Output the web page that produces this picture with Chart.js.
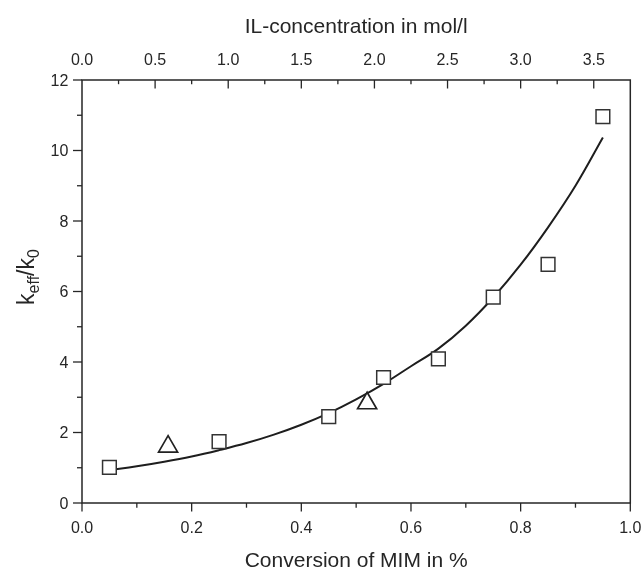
<!DOCTYPE html>
<html>
<head>
<meta charset="utf-8">
<script src="https://cdn.jsdelivr.net/npm/chart.js@4.4.1/dist/chart.umd.min.js"></script>
<style>
    html, body { margin: 0; padding: 0; background: #fff; }
    #wrap { width: 643px; height: 569px; }
</style>
</head>
<body>
<div id="wrap"><canvas id="chart"></canvas></div>
<script>
// measured k_eff/k_0 against conversion (squares and triangles)
const convSquares = [0.05, 0.25, 0.45, 0.55, 0.65, 0.75, 0.85, 0.95];
const ratioSquares = [1.01, 1.74, 2.45, 3.56, 4.09, 5.84, 6.77, 10.96];
const convTriangles = [0.157, 0.52];
const ratioTriangles = [1.6, 2.83];

// fitted curve
const fitConv = [0.05, 0.10, 0.15, 0.20, 0.25, 0.30, 0.35, 0.40, 0.45, 0.50,
                 0.55, 0.60, 0.65, 0.70, 0.75, 0.80, 0.85, 0.90, 0.95];
const fitRatio = [0.93, 1.04, 1.17, 1.32, 1.50, 1.70, 1.94, 2.22, 2.55, 2.94,
                  3.38, 3.88, 4.38, 5.03, 5.83, 6.76, 7.82, 9.0, 10.37];

// axis labels
const bottomTickLabels = ['0.0', '0.2', '0.4', '0.6', '0.8', '1.0'];
const topTickLabels = ['0.0', '0.5', '1.0', '1.5', '2.0', '2.5', '3.0', '3.5'];
const leftTickLabels = ['0', '2', '4', '6', '8', '10', '12'];
const topTitle = 'IL-concentration in mol/l';
const bottomTitle = 'Conversion of MIM in %';

const ink = '#262626';
const family = '"Liberation Sans", Arial, Helvetica, sans-serif';

function toPoints(xs, ys) {
    return xs.map((x, i) => ({x: x, y: ys[i]}));
}

function findLabel(labels, value) {
    return labels.find(l => Math.abs(parseFloat(l) - value) < 1e-6);
}

// frame, tick marks, tick labels and axis titles
const frameAndAxes = {
    id: 'frameAndAxes',
    afterDraw(chart) {
        const {ctx, chartArea: a, scales} = chart;
        ctx.save();
        ctx.strokeStyle = ink;
        ctx.fillStyle = ink;
        ctx.lineWidth = 1.5;
        ctx.strokeRect(a.left, a.top, a.right - a.left, a.bottom - a.top);

        ctx.lineWidth = 1.3;
        ctx.font = '16px ' + family;

        // bottom axis, ticks outward
        ctx.textAlign = 'center';
        ctx.textBaseline = 'alphabetic';
        for (const t of scales.x.ticks) {
            const px = scales.x.getPixelForValue(t.value);
            const lab = findLabel(bottomTickLabels, t.value);
            ctx.beginPath();
            ctx.moveTo(px, a.bottom);
            ctx.lineTo(px, a.bottom + (lab ? 8.5 : 4.7));
            ctx.stroke();
            if (lab) ctx.fillText(lab, px, a.bottom + 29.5);
        }

        // top axis, ticks inward
        for (const t of scales.x2.ticks) {
            const px = scales.x2.getPixelForValue(t.value);
            const lab = findLabel(topTickLabels, t.value);
            if (lab) ctx.fillText(lab, px, a.top - 15);
            if (t.value <= scales.x2.min + 1e-6 || t.value >= scales.x2.max - 1e-6) continue;
            ctx.beginPath();
            ctx.moveTo(px, a.top);
            ctx.lineTo(px, a.top + (lab ? 8.5 : 4.2));
            ctx.stroke();
        }

        // left axis, ticks outward
        ctx.textAlign = 'right';
        for (const t of scales.y.ticks) {
            const py = scales.y.getPixelForValue(t.value);
            const lab = findLabel(leftTickLabels, t.value);
            ctx.beginPath();
            ctx.moveTo(a.left - (lab ? 9 : 5), py);
            ctx.lineTo(a.left, py);
            ctx.stroke();
            if (lab) ctx.fillText(lab, a.left - 13.7, py + 5.8);
        }

        // axis titles
        ctx.font = '21px ' + family;
        ctx.textAlign = 'center';
        const cx = (a.left + a.right) / 2;
        ctx.fillText(topTitle, cx, 33);
        ctx.fillText(bottomTitle, cx, a.bottom + 64);

        // k_eff / k_0, rotated
        const parts = [
            {text: 'k', size: 23, dy: 0},
            {text: 'eff', size: 16, dy: 5},
            {text: '/k', size: 23, dy: 0},
            {text: '0', size: 16, dy: 5}
        ];
        let total = 0;
        for (const p of parts) {
            ctx.font = p.size + 'px ' + family;
            p.w = ctx.measureText(p.text).width;
            total += p.w;
        }
        ctx.translate(33.5, 277 + total / 2);
        ctx.rotate(-Math.PI / 2);
        ctx.textAlign = 'left';
        let x = 0;
        for (const p of parts) {
            ctx.font = p.size + 'px ' + family;
            ctx.fillText(p.text, x, p.dy);
            x += p.w;
        }
        ctx.restore();
    }
};

new Chart(document.getElementById('chart'), {
    data: {
        datasets: [
            {
                type: 'scatter',
                label: 'squares',
                data: toPoints(convSquares, ratioSquares),
                pointStyle: 'rect',
                pointRadius: 9.7,
                pointBorderWidth: 1.5,
                borderColor: '#333',
                backgroundColor: '#fff',
                order: 1
            },
            {
                type: 'scatter',
                label: 'triangles',
                data: toPoints(convTriangles, ratioTriangles),
                pointStyle: 'triangle',
                pointRadius: 11,
                pointBorderWidth: 1.7,
                borderColor: '#222',
                backgroundColor: '#fff',
                order: 2
            },
            {
                type: 'line',
                label: 'fit',
                data: toPoints(fitConv, fitRatio),
                borderColor: '#1e1e1e',
                borderWidth: 2,
                pointRadius: 0,
                tension: 0.4,
                fill: false,
                order: 3
            }
        ]
    },
    options: {
        responsive: true,
        maintainAspectRatio: false,
        animation: false,
        layout: {padding: {left: 82, right: 11.5, top: 80, bottom: 66}},
        plugins: {legend: {display: false}, tooltip: {enabled: false}},
        scales: {
            x: {type: 'linear', position: 'bottom', min: 0, max: 1, display: false, ticks: {stepSize: 0.1}},
            x2: {type: 'linear', position: 'top', min: 0, max: 3.75, display: false, ticks: {stepSize: 0.25}},
            y: {type: 'linear', position: 'left', min: 0, max: 12, display: false, ticks: {stepSize: 1}}
        }
    },
    plugins: [frameAndAxes]
});
</script>
</body>
</html>
